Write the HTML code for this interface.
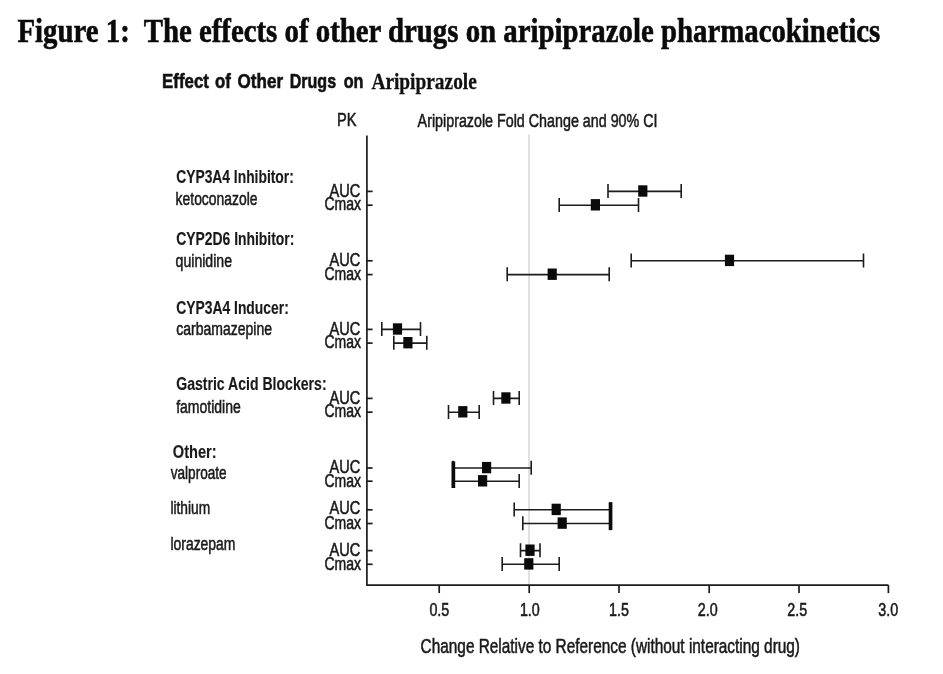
<!DOCTYPE html>
<html lang="en"><head><meta charset="utf-8"><title>Figure 1: The effects of other drugs on aripiprazole pharmacokinetics</title>
<style>html,body{margin:0;padding:0;background:#fff;}body{width:943px;height:674px;overflow:hidden;}svg{display:block;filter:blur(0.35px);}text{white-space:pre;}</style></head><body>
<svg width="943" height="674" viewBox="0 0 943 674">
<rect x="0" y="0" width="943" height="674" fill="#ffffff"/>
<line x1="529.00" y1="134.5" x2="529.00" y2="585" stroke="#c6c6c6" stroke-width="1.05"/>
<g stroke="#1c1c1c" stroke-width="1.7" fill="none" stroke-linecap="butt">
<path d="M366.9 135.4 V585.1 H888.4"/>
<path d="M366.9 191.40 H372.6"/>
<path d="M366.9 205.20 H372.6"/>
<path d="M366.9 260.80 H372.6"/>
<path d="M366.9 274.60 H372.6"/>
<path d="M366.9 329.40 H372.6"/>
<path d="M366.9 343.10 H372.6"/>
<path d="M366.9 398.40 H372.6"/>
<path d="M366.9 412.20 H372.6"/>
<path d="M366.9 468.00 H372.6"/>
<path d="M366.9 481.20 H372.6"/>
<path d="M366.9 509.80 H372.6"/>
<path d="M366.9 523.50 H372.6"/>
<path d="M366.9 550.60 H372.6"/>
<path d="M366.9 564.30 H372.6"/>
<path d="M439.20 585.1 V593.1"/>
<path d="M529.20 585.1 V593.1"/>
<path d="M619.00 585.1 V593.1"/>
<path d="M709.20 585.1 V593.1"/>
<path d="M799.00 585.1 V593.1"/>
<path d="M888.40 585.1 V593.1"/>
</g>
<g stroke="#1c1c1c" stroke-width="1.6" fill="none">
<path d="M608.00 191.40 H681.20 M608.00 184.10 V198.10 M681.20 184.10 V198.10"/>
<path d="M559.20 205.20 H638.50 M559.20 197.90 V211.90 M638.50 197.90 V211.90"/>
<path d="M631.20 260.80 H863.50 M631.20 253.50 V267.50 M863.50 253.50 V267.50"/>
<path d="M507.20 274.60 H609.20 M507.20 267.30 V281.30 M609.20 267.30 V281.30"/>
<path d="M381.80 329.40 H420.50 M381.80 322.10 V336.10 M420.50 322.10 V336.10"/>
<path d="M393.80 343.10 H426.80 M393.80 335.80 V349.80 M426.80 335.80 V349.80"/>
<path d="M493.50 398.40 H519.20 M493.50 391.10 V405.10 M519.20 391.10 V405.10"/>
<path d="M448.50 412.20 H479.20 M448.50 404.90 V418.90 M479.20 404.90 V418.90"/>
<path d="M453.20 468.00 H531.20 M453.20 460.70 V474.70 M531.20 460.70 V474.70"/>
<path d="M453.20 481.20 H519.20 M453.20 473.90 V487.90 M519.20 473.90 V487.90"/>
<path d="M514.20 509.80 H610.50 M514.20 502.50 V516.50 M610.50 502.50 V516.50"/>
<path d="M522.80 523.50 H610.50 M522.80 516.20 V530.20 M610.50 516.20 V530.20"/>
<path d="M520.50 550.60 H540.00 M520.50 543.30 V557.30 M540.00 543.30 V557.30"/>
<path d="M502.20 564.30 H559.20 M502.20 557.00 V571.00 M559.20 557.00 V571.00"/>
</g>
<g fill="#0a0a0a">
<rect x="638.20" y="185.30" width="9.2" height="11.4"/>
<rect x="590.80" y="199.10" width="9.2" height="11.4"/>
<rect x="724.90" y="254.70" width="9.2" height="11.4"/>
<rect x="547.60" y="268.50" width="9.2" height="11.4"/>
<rect x="392.90" y="323.30" width="9.2" height="11.4"/>
<rect x="403.30" y="337.00" width="9.2" height="11.4"/>
<rect x="501.30" y="392.30" width="9.2" height="11.4"/>
<rect x="458.20" y="406.10" width="9.2" height="11.4"/>
<rect x="482.00" y="461.90" width="9.2" height="11.4"/>
<rect x="478.00" y="475.10" width="9.2" height="11.4"/>
<rect x="551.60" y="503.70" width="9.2" height="11.4"/>
<rect x="557.60" y="517.40" width="9.2" height="11.4"/>
<rect x="525.40" y="544.50" width="9.2" height="11.4"/>
<rect x="524.20" y="558.20" width="9.2" height="11.4"/>
</g>
<rect x="451.5" y="461.4" width="3.7" height="26.6" fill="#0a0a0a"/>
<rect x="608.7" y="502.2" width="3.7" height="27.8" fill="#0a0a0a"/>
<text x="17.50" y="41.60" font-family='"Liberation Serif", "Times New Roman", Times, serif' font-size="34.40" font-weight="bold" fill="#0a0a0a" stroke="#0a0a0a" stroke-width="0.60" textLength="862.80" lengthAdjust="spacingAndGlyphs">Figure 1:  The effects of other drugs on aripiprazole pharmacokinetics</text>
<text y="88.20" font-family='"Liberation Sans", Arial, Helvetica, sans-serif' font-size="19.30" font-weight="bold" fill="#111" stroke="#111" stroke-width="0.55"><tspan x="162.10" textLength="46.80" lengthAdjust="spacingAndGlyphs">Effect</tspan> <tspan x="215.00" textLength="15.80" lengthAdjust="spacingAndGlyphs">of</tspan> <tspan x="237.60" textLength="45.50" lengthAdjust="spacingAndGlyphs">Other</tspan> <tspan x="289.70" textLength="46.40" lengthAdjust="spacingAndGlyphs">Drugs</tspan> <tspan x="343.70" textLength="19.80" lengthAdjust="spacingAndGlyphs">on</tspan></text>
<text x="371.40" y="88.50" font-family='"Liberation Serif", "Times New Roman", Times, serif' font-size="23.40" font-weight="bold" fill="#111" stroke="#111" stroke-width="0.30" textLength="105.40" lengthAdjust="spacingAndGlyphs">Aripiprazole</text>
<text x="337.10" y="126.10" font-family='"Liberation Sans", Arial, Helvetica, sans-serif' font-size="18.60" font-weight="normal" fill="#1a1a1a" stroke="#1a1a1a" stroke-width="0.55" textLength="19.50" lengthAdjust="spacingAndGlyphs">PK</text>
<text x="417.60" y="127.30" font-family='"Liberation Sans", Arial, Helvetica, sans-serif' font-size="18.60" font-weight="normal" fill="#1a1a1a" stroke="#1a1a1a" stroke-width="0.55" textLength="239.90" lengthAdjust="spacingAndGlyphs">Aripiprazole Fold Change and 90% CI</text>
<text x="176.20" y="183.00" font-family='"Liberation Sans", Arial, Helvetica, sans-serif' font-size="17.90" font-weight="bold" fill="#1a1a1a" stroke="#1a1a1a" stroke-width="0.15" textLength="117.60" lengthAdjust="spacingAndGlyphs">CYP3A4 Inhibitor:</text>
<text x="175.60" y="204.60" font-family='"Liberation Sans", Arial, Helvetica, sans-serif' font-size="18.30" font-weight="normal" fill="#1a1a1a" stroke="#1a1a1a" stroke-width="0.55" textLength="81.90" lengthAdjust="spacingAndGlyphs">ketoconazole</text>
<text x="176.20" y="244.60" font-family='"Liberation Sans", Arial, Helvetica, sans-serif' font-size="17.90" font-weight="bold" fill="#1a1a1a" stroke="#1a1a1a" stroke-width="0.15" textLength="118.20" lengthAdjust="spacingAndGlyphs">CYP2D6 Inhibitor:</text>
<text x="175.60" y="266.60" font-family='"Liberation Sans", Arial, Helvetica, sans-serif' font-size="18.30" font-weight="normal" fill="#1a1a1a" stroke="#1a1a1a" stroke-width="0.55" textLength="56.40" lengthAdjust="spacingAndGlyphs">quinidine</text>
<text x="176.20" y="313.80" font-family='"Liberation Sans", Arial, Helvetica, sans-serif' font-size="17.90" font-weight="bold" fill="#1a1a1a" stroke="#1a1a1a" stroke-width="0.15" textLength="112.60" lengthAdjust="spacingAndGlyphs">CYP3A4 Inducer:</text>
<text x="176.20" y="334.60" font-family='"Liberation Sans", Arial, Helvetica, sans-serif' font-size="18.30" font-weight="normal" fill="#1a1a1a" stroke="#1a1a1a" stroke-width="0.55" textLength="95.80" lengthAdjust="spacingAndGlyphs">carbamazepine</text>
<text x="176.20" y="390.40" font-family='"Liberation Sans", Arial, Helvetica, sans-serif' font-size="17.90" font-weight="bold" fill="#1a1a1a" stroke="#1a1a1a" stroke-width="0.15" textLength="150.40" lengthAdjust="spacingAndGlyphs">Gastric Acid Blockers:</text>
<text x="176.20" y="412.50" font-family='"Liberation Sans", Arial, Helvetica, sans-serif' font-size="18.30" font-weight="normal" fill="#1a1a1a" stroke="#1a1a1a" stroke-width="0.55" textLength="64.60" lengthAdjust="spacingAndGlyphs">famotidine</text>
<text x="172.80" y="458.10" font-family='"Liberation Sans", Arial, Helvetica, sans-serif' font-size="17.90" font-weight="bold" fill="#1a1a1a" stroke="#1a1a1a" stroke-width="0.15" textLength="43.80" lengthAdjust="spacingAndGlyphs">Other:</text>
<text x="170.70" y="479.20" font-family='"Liberation Sans", Arial, Helvetica, sans-serif' font-size="18.30" font-weight="normal" fill="#1a1a1a" stroke="#1a1a1a" stroke-width="0.55" textLength="56.00" lengthAdjust="spacingAndGlyphs">valproate</text>
<text x="170.40" y="513.90" font-family='"Liberation Sans", Arial, Helvetica, sans-serif' font-size="18.30" font-weight="normal" fill="#1a1a1a" stroke="#1a1a1a" stroke-width="0.55" textLength="39.80" lengthAdjust="spacingAndGlyphs">lithium</text>
<text x="170.40" y="549.50" font-family='"Liberation Sans", Arial, Helvetica, sans-serif' font-size="18.30" font-weight="normal" fill="#1a1a1a" stroke="#1a1a1a" stroke-width="0.55" textLength="65.10" lengthAdjust="spacingAndGlyphs">lorazepam</text>
<text x="329.60" y="196.70" font-family='"Liberation Sans", Arial, Helvetica, sans-serif' font-size="18.40" font-weight="normal" fill="#1a1a1a" stroke="#1a1a1a" stroke-width="0.55" textLength="30.80" lengthAdjust="spacingAndGlyphs">AUC</text>
<text x="324.40" y="210.10" font-family='"Liberation Sans", Arial, Helvetica, sans-serif' font-size="18.40" font-weight="normal" fill="#1a1a1a" stroke="#1a1a1a" stroke-width="0.55" textLength="36.60" lengthAdjust="spacingAndGlyphs">Cmax</text>
<text x="329.60" y="266.10" font-family='"Liberation Sans", Arial, Helvetica, sans-serif' font-size="18.40" font-weight="normal" fill="#1a1a1a" stroke="#1a1a1a" stroke-width="0.55" textLength="30.80" lengthAdjust="spacingAndGlyphs">AUC</text>
<text x="324.40" y="279.50" font-family='"Liberation Sans", Arial, Helvetica, sans-serif' font-size="18.40" font-weight="normal" fill="#1a1a1a" stroke="#1a1a1a" stroke-width="0.55" textLength="36.60" lengthAdjust="spacingAndGlyphs">Cmax</text>
<text x="329.60" y="334.70" font-family='"Liberation Sans", Arial, Helvetica, sans-serif' font-size="18.40" font-weight="normal" fill="#1a1a1a" stroke="#1a1a1a" stroke-width="0.55" textLength="30.80" lengthAdjust="spacingAndGlyphs">AUC</text>
<text x="324.40" y="348.00" font-family='"Liberation Sans", Arial, Helvetica, sans-serif' font-size="18.40" font-weight="normal" fill="#1a1a1a" stroke="#1a1a1a" stroke-width="0.55" textLength="36.60" lengthAdjust="spacingAndGlyphs">Cmax</text>
<text x="329.60" y="403.70" font-family='"Liberation Sans", Arial, Helvetica, sans-serif' font-size="18.40" font-weight="normal" fill="#1a1a1a" stroke="#1a1a1a" stroke-width="0.55" textLength="30.80" lengthAdjust="spacingAndGlyphs">AUC</text>
<text x="324.40" y="417.10" font-family='"Liberation Sans", Arial, Helvetica, sans-serif' font-size="18.40" font-weight="normal" fill="#1a1a1a" stroke="#1a1a1a" stroke-width="0.55" textLength="36.60" lengthAdjust="spacingAndGlyphs">Cmax</text>
<text x="329.60" y="473.30" font-family='"Liberation Sans", Arial, Helvetica, sans-serif' font-size="18.40" font-weight="normal" fill="#1a1a1a" stroke="#1a1a1a" stroke-width="0.55" textLength="30.80" lengthAdjust="spacingAndGlyphs">AUC</text>
<text x="324.40" y="486.50" font-family='"Liberation Sans", Arial, Helvetica, sans-serif' font-size="18.40" font-weight="normal" fill="#1a1a1a" stroke="#1a1a1a" stroke-width="0.55" textLength="36.60" lengthAdjust="spacingAndGlyphs">Cmax</text>
<text x="329.60" y="514.10" font-family='"Liberation Sans", Arial, Helvetica, sans-serif' font-size="18.40" font-weight="normal" fill="#1a1a1a" stroke="#1a1a1a" stroke-width="0.55" textLength="30.80" lengthAdjust="spacingAndGlyphs">AUC</text>
<text x="324.40" y="528.80" font-family='"Liberation Sans", Arial, Helvetica, sans-serif' font-size="18.40" font-weight="normal" fill="#1a1a1a" stroke="#1a1a1a" stroke-width="0.55" textLength="36.60" lengthAdjust="spacingAndGlyphs">Cmax</text>
<text x="329.60" y="555.50" font-family='"Liberation Sans", Arial, Helvetica, sans-serif' font-size="18.40" font-weight="normal" fill="#1a1a1a" stroke="#1a1a1a" stroke-width="0.55" textLength="30.80" lengthAdjust="spacingAndGlyphs">AUC</text>
<text x="324.40" y="569.80" font-family='"Liberation Sans", Arial, Helvetica, sans-serif' font-size="18.40" font-weight="normal" fill="#1a1a1a" stroke="#1a1a1a" stroke-width="0.55" textLength="36.60" lengthAdjust="spacingAndGlyphs">Cmax</text>
<text x="429.40" y="616.00" font-family='"Liberation Sans", Arial, Helvetica, sans-serif' font-size="17.90" font-weight="normal" fill="#1a1a1a" stroke="#1a1a1a" stroke-width="0.55" textLength="19.90" lengthAdjust="spacingAndGlyphs">0.5</text>
<text x="519.90" y="616.00" font-family='"Liberation Sans", Arial, Helvetica, sans-serif' font-size="17.90" font-weight="normal" fill="#1a1a1a" stroke="#1a1a1a" stroke-width="0.55" textLength="19.90" lengthAdjust="spacingAndGlyphs">1.0</text>
<text x="609.10" y="616.00" font-family='"Liberation Sans", Arial, Helvetica, sans-serif' font-size="17.90" font-weight="normal" fill="#1a1a1a" stroke="#1a1a1a" stroke-width="0.55" textLength="19.90" lengthAdjust="spacingAndGlyphs">1.5</text>
<text x="697.80" y="616.00" font-family='"Liberation Sans", Arial, Helvetica, sans-serif' font-size="17.90" font-weight="normal" fill="#1a1a1a" stroke="#1a1a1a" stroke-width="0.55" textLength="19.90" lengthAdjust="spacingAndGlyphs">2.0</text>
<text x="787.20" y="616.00" font-family='"Liberation Sans", Arial, Helvetica, sans-serif' font-size="17.90" font-weight="normal" fill="#1a1a1a" stroke="#1a1a1a" stroke-width="0.55" textLength="19.90" lengthAdjust="spacingAndGlyphs">2.5</text>
<text x="878.20" y="616.00" font-family='"Liberation Sans", Arial, Helvetica, sans-serif' font-size="17.90" font-weight="normal" fill="#1a1a1a" stroke="#1a1a1a" stroke-width="0.55" textLength="19.90" lengthAdjust="spacingAndGlyphs">3.0</text>
<text x="420.60" y="653.00" font-family='"Liberation Sans", Arial, Helvetica, sans-serif' font-size="19.80" font-weight="normal" fill="#1a1a1a" stroke="#1a1a1a" stroke-width="0.55" textLength="379.40" lengthAdjust="spacingAndGlyphs">Change Relative to Reference (without interacting drug)</text>
</svg></body></html>
